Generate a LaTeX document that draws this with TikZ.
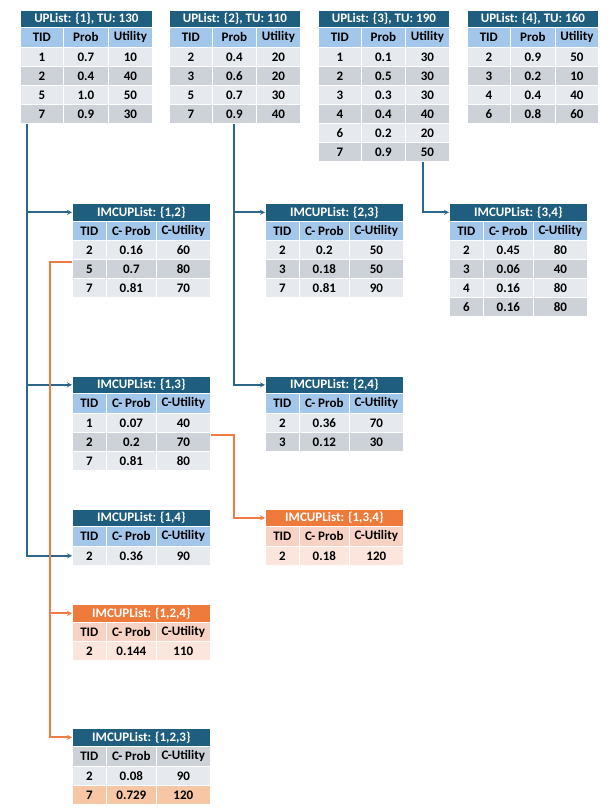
\documentclass[tikz,border=0pt]{standalone}
\usepackage{fontspec}
\setmainfont{Carlito}
\usetikzlibrary{arrows.meta,calc}
\definecolor{hdrblue}{HTML}{1F5E7F}
\definecolor{hdrorange}{HTML}{EE7A3C}
\definecolor{colblue}{HTML}{A3C7EA}
\definecolor{rowlight}{HTML}{E6E9ED}
\definecolor{rowdark}{HTML}{CDD2D8}
\definecolor{colorange}{HTML}{F8D2C4}
\definecolor{roworange}{HTML}{FCE5DC}
\definecolor{rowpeach}{HTML}{F7C6A5}
\definecolor{lineblue}{HTML}{2B678A}
\definecolor{lineorange}{HTML}{F07A45}
\newcommand\settbl[4]{\def\tx{#1}\def\wa{#2}\def\wb{#3}\def\wc{#4}\pgfmathsetmacro\wt{#2+#3+#4}}
\newcommand\ttitle[5]{\node[#4, minimum width=\wt pt, minimum height=#3pt] (#1) at (\tx,#2) {#5};}
\newcommand\trow[7]{%
 \node[#4, minimum width=\wa pt, minimum height=#3pt] (#1a) at (\tx,#2) {#5};
 \node[#4, minimum width=\wb pt, minimum height=#3pt] (#1b) at (\tx+\wa,#2) {#6};
 \node[#4, minimum width=\wc pt, minimum height=#3pt] (#1c) at (\tx+\wa+\wb,#2) {#7};}
\tikzset{
 cell/.style={draw=white, line width=0.7pt, inner sep=0pt, anchor=north west, font=\fontsize{13}{15}\selectfont\bfseries, text=black},
 hb/.style={cell, fill=hdrblue, text=white},
 ho/.style={cell, fill=hdrorange, text=white},
 cb/.style={cell, fill=colblue},
 cg/.style={cell, fill=rowdark},
 co/.style={cell, fill=colorange},
 rl/.style={cell, fill=rowlight},
 rd/.style={cell, fill=rowdark},
 ro/.style={cell, fill=roworange},
 rp/.style={cell, fill=rowpeach},
 bl/.style={draw=lineblue, line width=1.9pt, -{Stealth[length=5pt,width=5pt]}},
 orl/.style={draw=lineorange, line width=1.9pt, -{Stealth[length=5pt,width=5pt]}},
}
\begin{document}
\begin{tikzpicture}[x=1pt,y=-1pt]
\useasboundingbox (0,0) rectangle (612,811);
% UPList {1}
\settbl{20}{43}{45}{44}
\ttitle{T1h}{10}{17}{hb}{UPList: \{1\}, TU: 130}
\trow{T1c}{27}{20}{cb}{TID}{Prob}{Utility}
\trow{T1r1}{47}{19}{rl}{1}{0.7}{10}
\trow{T1r2}{66}{19}{rd}{2}{0.4}{40}
\trow{T1r3}{85}{19}{rl}{5}{1.0}{50}
\trow{T1r4}{104}{19}{rd}{7}{0.9}{30}
% UPList {2}
\settbl{169}{43}{44}{44}
\ttitle{T2h}{10}{17}{hb}{UPList: \{2\}, TU: 110}
\trow{T2c}{27}{20}{cb}{TID}{Prob}{Utility}
\trow{T2r1}{47}{19}{rl}{2}{0.4}{20}
\trow{T2r2}{66}{19}{rd}{3}{0.6}{20}
\trow{T2r3}{85}{19}{rl}{5}{0.7}{30}
\trow{T2r4}{104}{19}{rd}{7}{0.9}{40}
% UPList {3}
\settbl{318}{43}{44}{44}
\ttitle{T3h}{10}{17}{hb}{UPList: \{3\}, TU: 190}
\trow{T3c}{27}{20}{cb}{TID}{Prob}{Utility}
\trow{T3r1}{47}{19}{rl}{1}{0.1}{30}
\trow{T3r2}{66}{19}{rd}{2}{0.5}{30}
\trow{T3r3}{85}{19}{rl}{3}{0.3}{30}
\trow{T3r4}{104}{19}{rd}{4}{0.4}{40}
\trow{T3r5}{123}{19}{rl}{6}{0.2}{20}
\trow{T3r6}{142}{19}{rd}{7}{0.9}{50}
% UPList {4}
\settbl{467}{43}{45}{43}
\ttitle{T4h}{10}{17}{hb}{UPList: \{4\}, TU: 160}
\trow{T4c}{27}{20}{cb}{TID}{Prob}{Utility}
\trow{T4r1}{47}{19}{rl}{2}{0.9}{50}
\trow{T4r2}{66}{19}{rd}{3}{0.2}{10}
\trow{T4r3}{85}{19}{rl}{4}{0.4}{40}
\trow{T4r4}{104}{19}{rd}{6}{0.8}{60}
% IMCUPList {1,2}
\settbl{72}{34}{50}{54}
\ttitle{I12h}{203}{18}{hb}{IMCUPList: \{1,2\}}
\trow{I12c}{221}{19}{cb}{TID}{C- Prob}{C-Utility}
\trow{I12r1}{240}{19}{rl}{2}{0.16}{60}
\trow{I12r2}{259}{19}{rd}{5}{0.7}{80}
\trow{I12r3}{278}{19}{rl}{7}{0.81}{70}
% IMCUPList {2,3}
\settbl{265}{34}{50}{54}
\ttitle{I23h}{203}{18}{hb}{IMCUPList: \{2,3\}}
\trow{I23c}{221}{19}{cb}{TID}{C- Prob}{C-Utility}
\trow{I23r1}{240}{19}{rl}{2}{0.2}{50}
\trow{I23r2}{259}{19}{rd}{3}{0.18}{50}
\trow{I23r3}{278}{19}{rl}{7}{0.81}{90}
% IMCUPList {3,4}
\settbl{449}{34}{50}{54}
\ttitle{I34h}{203}{18}{hb}{IMCUPList: \{3,4\}}
\trow{I34c}{221}{19}{cb}{TID}{C- Prob}{C-Utility}
\trow{I34r1}{240}{19}{rl}{2}{0.45}{80}
\trow{I34r2}{259}{19}{rd}{3}{0.06}{40}
\trow{I34r3}{278}{19}{rl}{4}{0.16}{80}
\trow{I34r4}{297}{19}{rd}{6}{0.16}{80}
% IMCUPList {1,3}
\settbl{72}{34}{50}{54}
\ttitle{I13h}{376}{17}{hb}{IMCUPList: \{1,3\}}
\trow{I13c}{393}{20}{cb}{TID}{C- Prob}{C-Utility}
\trow{I13r1}{413}{19}{rl}{1}{0.07}{40}
\trow{I13r2}{432}{19}{rd}{2}{0.2}{70}
\trow{I13r3}{451}{19}{rl}{7}{0.81}{80}
% IMCUPList {2,4}
\settbl{265}{34}{50}{54}
\ttitle{I24h}{376}{17}{hb}{IMCUPList: \{2,4\}}
\trow{I24c}{393}{20}{cb}{TID}{C- Prob}{C-Utility}
\trow{I24r1}{413}{19}{rl}{2}{0.36}{70}
\trow{I24r2}{432}{19}{rd}{3}{0.12}{30}
% IMCUPList {1,3,4}
\settbl{265}{34}{50}{54}
\ttitle{I134h}{509}{17}{ho}{IMCUPList: \{1,3,4\}}
\trow{I134c}{526}{20}{co}{TID}{C- Prob}{C-Utility}
\trow{I134r1}{546}{19}{ro}{2}{0.18}{120}
% IMCUPList {1,4}
\settbl{72}{34}{50}{54}
\ttitle{I14h}{509}{17}{hb}{IMCUPList: \{1,4\}}
\trow{I14c}{526}{20}{cb}{TID}{C- Prob}{C-Utility}
\trow{I14r1}{546}{19}{rl}{2}{0.36}{90}
% IMCUPList {1,2,4}
\ttitle{I124h}{604}{18}{ho}{IMCUPList: \{1,2,4\}}
\trow{I124c}{622}{19}{co}{TID}{C- Prob}{C-Utility}
\trow{I124r1}{641}{19}{ro}{2}{0.144}{110}
% IMCUPList {1,2,3}
\ttitle{I123h}{728}{18}{hb}{IMCUPList: \{1,2,3\}}
\trow{I123c}{746}{20}{cg}{TID}{C- Prob}{C-Utility}
\trow{I123r1}{766}{19}{rl}{2}{0.08}{90}
\trow{I123r2}{785}{19}{rp}{7}{0.729}{120}
% blue connectors
\draw[bl] ([xshift=7pt]T1r4a.south west) coordinate (b1) |- (I14r1a.west);
\draw[bl] (b1 |- I12h.west) -- (I12h.west);
\draw[bl] (b1 |- I13h.west) -- (I13h.west);
\draw[bl] (T2r4b.south) |- (I24h.west);
\draw[bl] (T2r4b.south |- I23h.west) -- (I23h.west);
\draw[bl] ([xshift=-4pt]T3r6c.south) |- (I34h.west);
% orange connectors
\draw[orl] ([yshift=-3pt]I12r2a.north west) -- ++(-22,0) coordinate (o1) |- (I123h.west);
\draw[orl] (o1 |- I124h.west) -- (I124h.west);
\draw[orl] ([yshift=-3pt]I13r2c.north east) -| (T2r4b.south |- I134h.west) -- (I134h.west);
\end{tikzpicture}
\end{document}
